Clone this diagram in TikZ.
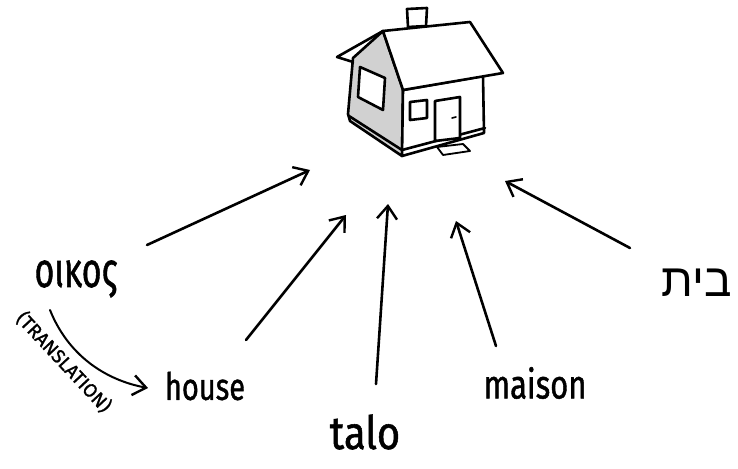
\documentclass[tikz,border=0pt]{standalone}
\usepackage{fontspec}
\setmainfont{Fira Sans}
\newfontfamily\handfont{Fira Sans}[FakeBold=1.2]
\newfontfamily\hebfont[Script=Hebrew]{Liberation Sans}
\TeXXeTstate=1
\usetikzlibrary{arrows.meta}
\definecolor{wallgray}{gray}{0.82}
\tikzset{
  ink/.style={line width=2.6pt, line join=round, line cap=round},
  pointer/.style={ink, -{Straight Barb[length=13pt,width=20pt,line width=2.4pt]}},
  word/.style={inner sep=0pt, anchor=center},
}
\begin{document}
\begin{tikzpicture}[x=1pt,y=-1pt]
\useasboundingbox (0,0) rectangle (738,468);

% --- the house ---
% chimney
\draw[ink, fill=white] (407,9) -- (427,8) -- (426,26) -- (408,27) -- cycle;
% shaded gable wall
\draw[ink, fill=wallgray] (353,58) -- (383,31) -- (403,90) -- (402,156) -- (350,121) -- (348,114) -- cycle;
% side wall
\draw[ink, fill=white] (403,90) -- (483,76) -- (484,133) -- (402,156) -- cycle;
% roof
\draw[ink, fill=white] (383,31) -- (470,22) -- (503,73) -- (403,90) -- cycle;
% eave overhang on the gable
\draw[ink] (383,31) -- (337,57) -- (353,62);
% foundation strip
\draw[ink] (349,116) -- (402,150) -- (485,128);
% gable window
\draw[ink, fill=white] (360,67) -- (385,78) -- (383,110) -- (358,97) -- cycle;
% side window
\draw[ink, fill=white] (410,102) -- (427,100) -- (427,118) -- (410,120) -- cycle;
% door
\draw[ink, fill=white] (435,101) -- (460,97) -- (460,138) -- (435,141) -- cycle;
\draw[ink, line width=1.6pt] (452,118) -- (456,117);
% front step
\draw[ink, line width=1.8pt, fill=white] (437,147) -- (463,144) -- (470,151) -- (443,155) -- cycle;

% --- words ---
\node[word, font=\handfont\fontsize{34}{34}\selectfont, yscale=1.45] (oikos) at (76,279) {οικος};
\node[word, font=\handfont\fontsize{29}{29}\selectfont, yscale=1.3] (house) at (205,386) {house};
\node[word, font=\handfont\fontsize{40}{40}\selectfont, yscale=1.15] (talo) at (365,432) {talo};
\node[word, font=\handfont\fontsize{31}{31}\selectfont, yscale=1.3] (maison) at (535,383) {maison};
\node[word, font=\hebfont\fontsize{46}{46}\selectfont] (bayit) at (697,283) {\beginR בית\endR};
\node[word, font=\handfont\fontsize{19}{19}\selectfont, rotate=-47] (transl) at (64,362) {(TRANSLATION)};

% --- arrow end points ---
\coordinate (oikosA) at (147,245);
\coordinate (oikosB) at (310,170);
\coordinate (houseA) at (246,340);
\coordinate (houseB) at (346,215);
\coordinate (taloA) at (376,384);
\coordinate (taloB) at (388,204);
\coordinate (maisonA) at (496,346);
\coordinate (maisonB) at (456,221);
\coordinate (bayitA) at (630,248);
\coordinate (bayitB) at (505,181);
\coordinate (trA) at (50,310);
\coordinate (trB) at (148,388);

\draw[pointer] (oikosA) -- (oikosB);
\draw[pointer] (houseA) -- (houseB);
\draw[pointer] (taloA) -- (taloB);
\draw[pointer] (maisonA) -- (maisonB);
\draw[pointer] (bayitA) -- (bayitB);
\draw[pointer, line width=2pt] (trA) .. controls (68,355) and (105,380) .. (trB);
\end{tikzpicture}
\end{document}
